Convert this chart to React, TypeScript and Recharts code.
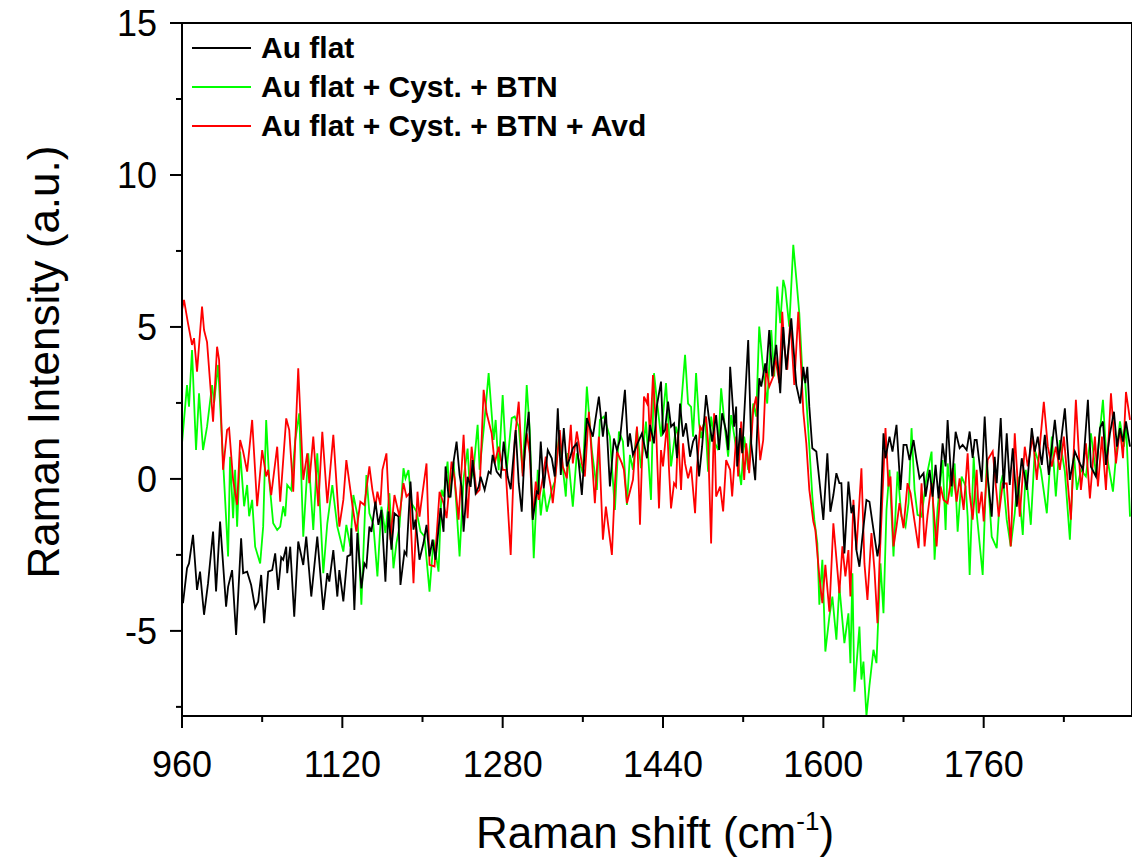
import { LineChart, Line, XAxis, YAxis, ReferenceLine, Legend, Label } from 'recharts'

const FONT = '"Liberation Sans", Arial, sans-serif'

const X_MIN = 960
const X_MAX = 1908
const Y_MIN = -7.8
const Y_MAX = 15

const xTicks = [960, 1040, 1120, 1200, 1280, 1360, 1440, 1520, 1600, 1680, 1760, 1840]
const yTicks = [-7.5, -5, -2.5, 0, 2.5, 5, 7.5, 10, 12.5, 15]

const seriesNames = ['Au flat', 'Au flat + Cyst. + BTN', 'Au flat + Cyst. + BTN + Avd']
const seriesColors = ['#000000', '#00ff00', '#ff0000']

// Au flat (black)
const auFlatX = [
  961, 965, 967, 971, 975, 978, 982, 986, 991, 994,
  998, 1004, 1006, 1010, 1014, 1019, 1021, 1025, 1029, 1033,
  1036, 1039, 1042, 1046, 1050, 1053, 1056, 1059, 1061, 1064,
  1065, 1068, 1072, 1076, 1081, 1084, 1089, 1095, 1101, 1105,
  1107, 1111, 1115, 1117, 1121, 1125, 1128, 1129, 1132, 1135,
  1139, 1142, 1144, 1147, 1149, 1153, 1156, 1159, 1163, 1166,
  1169, 1172, 1176, 1178, 1182, 1184, 1188, 1191, 1193, 1197,
  1201, 1204, 1207, 1210, 1213, 1218, 1221, 1223, 1226, 1228,
  1231, 1234, 1237, 1239, 1241, 1245, 1248, 1250, 1253, 1256,
  1258, 1262, 1266, 1268, 1270, 1274, 1278, 1281, 1285, 1288,
  1293, 1296, 1299, 1302, 1306, 1310, 1314, 1315.5, 1318, 1321,
  1325, 1329, 1332, 1335, 1338, 1341, 1344, 1347, 1350, 1354,
  1359, 1364, 1370, 1376, 1380, 1383, 1387, 1391, 1394, 1397,
  1402, 1405, 1407, 1410, 1414, 1419, 1424, 1427, 1431, 1434,
  1438, 1440, 1442, 1445, 1448, 1451, 1454, 1457, 1460, 1463,
  1467, 1470, 1473, 1476, 1479, 1483, 1486, 1489, 1493, 1496,
  1499, 1503, 1505, 1507, 1511, 1513, 1514, 1517, 1519, 1525,
  1528, 1532, 1536, 1538, 1542, 1543, 1546, 1549, 1553, 1557,
  1560, 1563, 1568, 1573, 1577, 1580, 1582, 1584, 1586, 1589,
  1593, 1596, 1600, 1604, 1607, 1610, 1613, 1616, 1618, 1621,
  1625, 1628, 1630, 1633, 1636, 1639, 1643, 1646, 1650, 1654,
  1656, 1660, 1662, 1666, 1669, 1673, 1677, 1680, 1683, 1686,
  1690, 1693, 1696, 1700, 1702, 1706, 1709, 1712, 1715, 1719,
  1722, 1724, 1728, 1732, 1736, 1739, 1743, 1746, 1749, 1751,
  1753, 1758, 1761, 1764, 1768, 1771, 1773, 1777, 1780, 1783,
  1786, 1789, 1793, 1798, 1803, 1808, 1811, 1814, 1818, 1821,
  1825, 1831, 1835, 1841, 1846, 1851, 1856, 1859, 1864, 1867,
  1872, 1876, 1879, 1882, 1886, 1890, 1893, 1896, 1899, 1902,
  1906,
]
const auFlatY = [
  -4.09, -2.94, -2.78, -1.84, -3.65, -3.05, -4.47, -3.43, -1.73, -3.7,
  -1.4, -4.2, -3.55, -3.0, -5.13, -1.95, -3.1, -3.05, -3.49, -4.25,
  -4.04, -3.16, -4.75, -3.05, -3.0, -2.45, -3.65, -2.58, -2.66, -2.23,
  -3.1, -2.23, -4.53, -2.06, -2.83, -1.9, -3.87, -1.9, -4.31, -3.1,
  -3.38, -2.34, -3.87, -3.0, -4.03, -2.55, -2.5, -1.62, -4.31, -1.78,
  -3.6, -2.78, -2.89, -1.57, -1.74, -0.75, -1.51, -1.02, -3.38, -1.07,
  -2.33, -1.13, -1.24, -3.49, -2.39, -2.5, -0.09, -1.67, -1.34, -2.66,
  -2.11, -1.51, -2.55, -2.0, -2.66, -0.96, -1.74, 0.41, -0.58, -0.58,
  0.57, 1.23, 0.13, -0.26, -1.74, 0.07, -0.26, 0.62, -0.47, -0.26,
  0.07, -0.36, 0.24, 0.18, 0.79, 0.24, 0.07, 1.23, 0.08, -0.34,
  1.61, -0.14, -1.08, 0.95, 2.21, -1.35, -0.42, -0.47, 1.23, -0.31,
  0.95, 0.68, 0.08, 2.32, 0.13, 1.67, 0.41, 0.68, 1.01, 1.17,
  -0.53, 2.0, 1.39, 2.71, 1.39, 2.21, -0.25, 1.33, 0.95, 1.28,
  2.93, 1.06, 1.5, 0.79, 1.12, 1.5, 0.68, 1.78, 1.17, 2.43,
  3.2, 1.5, 1.61, 2.54, 1.72, 1.83, 0.68, 2.48, 1.39, 1.83,
  0.73, 1.23, 1.45, 0.08, 1.06, 2.76, 1.94, 1.23, 2.1, 0.95,
  2.16, 1.56, 0.95, 3.69, 1.72, 2.38, 0.41, 1.67, 0.85, 4.57,
  1.17, -0.04, 3.31, 3.04, 3.8, 3.48, 4.9, 3.37, 4.41, 2.82,
  5.0, 3.59, 5.28, 3.09, 2.48, 3.69, 3.15, 3.69, 2.37, 1.01,
  0.9, -0.04, -1.35, 0.84, -1.08, -0.53, 0.19, -0.14, -0.14, -2.45,
  -0.09, -1.13, -0.86, -2.34, -2.89, -1.9, -0.69, -0.75, -1.67, -2.55,
  -2.11, 1.5, 0.68, 1.39, 0.9, 1.78, -0.36, 1.12, 1.12, 0.62,
  1.28, 0.62, 0.02, 0.19, -0.58, 0.3, -0.58, 0.46, -0.64, 1.17,
  0.41, 1.94, -0.25, 1.55, 1.01, 1.12, 0.95, 1.56, 0.69, 1.28,
  1.28, -0.1, 2.05, 0.08, -1.24, 0.73, -0.14, 2.0, -0.31, 1.5,
  -0.2, 1.01, -0.91, 0.68, -0.36, 1.67, 0.9, 1.39, 0.46, 1.45,
  0.13, 1.94, 0.63, 2.32, -0.03, 0.9, 0.51, 0.3, 2.6, 0.4,
  0.08, 1.67, 1.89, 0.46, 1.5, 2.21, 1.06, 1.67, 1.23, 1.89,
  1.06,
]

// Au flat + Cyst. + BTN (green)
const btnX = [
  960, 965, 967, 970, 974, 977, 981, 985, 990, 992,
  996, 1006, 1008, 1011, 1013, 1015, 1018, 1022, 1025, 1027,
  1030, 1033, 1038, 1041, 1044, 1047, 1051, 1055, 1058, 1061,
  1063, 1065, 1069, 1073, 1077, 1081, 1086, 1091, 1095, 1101,
  1105, 1110, 1115, 1121, 1124, 1128, 1131, 1135, 1139, 1144,
  1147, 1151, 1155, 1159, 1163, 1167, 1171, 1174, 1177, 1181,
  1183, 1186, 1189, 1194, 1198, 1202, 1207, 1211, 1216, 1219,
  1221, 1225, 1227, 1231, 1237, 1241, 1245, 1247, 1251, 1255,
  1257, 1261, 1266, 1271, 1273, 1276, 1280, 1284, 1289, 1292,
  1296, 1300, 1304, 1307, 1311, 1315, 1318, 1321, 1324, 1329,
  1332, 1336, 1339, 1343, 1345, 1350, 1354, 1360, 1364, 1369,
  1374, 1377, 1381, 1387, 1392, 1396, 1400, 1404, 1407, 1410,
  1414, 1418, 1423, 1428, 1431, 1434, 1438, 1443, 1445, 1448,
  1453, 1455, 1458, 1462, 1465, 1468, 1470, 1473, 1476, 1478,
  1482, 1485, 1488, 1492, 1495, 1498, 1502, 1505, 1508, 1511,
  1514, 1518, 1521, 1525, 1530, 1533, 1536, 1540, 1544, 1548,
  1551, 1554, 1557, 1560, 1562, 1566, 1570, 1573, 1576, 1579,
  1582, 1586, 1589, 1591, 1594, 1596, 1599, 1602, 1606, 1609,
  1613, 1616, 1621, 1625, 1627, 1629, 1631, 1636, 1638, 1640,
  1643, 1646, 1650, 1653, 1657, 1660, 1663, 1666, 1670, 1674,
  1678, 1682, 1685, 1688, 1691, 1694, 1698, 1703, 1708, 1711,
  1714, 1719, 1722, 1724, 1728, 1731, 1734, 1738, 1742, 1744,
  1746, 1750, 1753, 1759, 1763, 1768, 1773, 1777, 1779, 1783,
  1787, 1791, 1794, 1799, 1802, 1807, 1811, 1817, 1823, 1828,
  1832, 1836, 1841, 1846, 1850, 1853, 1857, 1862, 1867, 1872,
  1879, 1882, 1889, 1892, 1896, 1900, 1902, 1906,
]
const btnY = [
  1.17, 3.09, 2.38, 4.24, 0.95, 2.82, 0.95, 1.72, 3.09, 2.5,
  3.75, -2.55, 0.73, -1.29, 0.3, -1.57, 0.9, -0.9, -0.2, -1.23,
  -0.69, -2.23, -2.78, -1.57, 1.94, -0.03, -1.46, -1.68, -1.57, -0.9,
  -1.23, -0.2, -0.37, 1.28, 2.16, -1.9, 0.84, -1.68, 0.84, -3.1,
  -1.46, -0.2, -1.57, -2.39, -1.51, -2.23, -0.53, -1.18, -4.14, 0.13,
  -1.13, -1.51, -3.21, -0.91, -1.78, -0.47, -2.94, -2.11, -1.57, 0.35,
  0.02, 0.29, -0.8, -1.07, -1.73, -1.89, -3.71, -2.0, -3.05, -0.36,
  -0.58, 0.57, -0.63, 0.57, -2.55, 0.02, 1.0, -0.25, 0.35, 1.78,
  0.3, 1.61, 3.48, 1.28, 1.94, 0.29, 2.76, 0.3, 2.0, 2.05,
  1.72, 0.19, 3.09, 1.61, -2.61, 0.3, -1.2, -0.31, -1.08, -0.36,
  -0.09, 1.33, 0.68, -0.58, 0.85, -0.91, 0.84, 0.19, 3.04, 0.95,
  -0.36, 1.94, 2.05, 1.39, -1.02, 1.56, 1.23, -0.86, 0.79, 0.3,
  1.67, 0.35, 1.89, -0.69, 3.48, 2.54, 1.39, 3.15, 2.05, 0.41,
  1.72, 1.39, 2.37, 4.08, 2.48, 2.37, 1.39, 3.48, 1.83, 1.34,
  2.05, 0.24, 2.05, 1.17, 0.95, 2.98, 1.61, 0.73, 2.1, 1.45,
  0.73, -0.2, 1.39, 0.3, 2.48, 2.05, 5.01, 3.59, 2.48, 4.9,
  3.37, 6.33, 5.12, 6.55, 6.27, 5.01, 7.7, 6.6, 5.45, 3.53,
  3.15, 1.06, -0.58, -1.34, -2.12, -4.14, -2.66, -5.68, -4.53, -3.87,
  -5.29, -3.54, -5.4, -4.42, -6.06, -3.1, -7.0, -4.86, -6.6, -6.01,
  -7.8, -6.8, -5.62, -6.06, -2.78, -4.42, -1.02, 0.3, -2.55, 0.24,
  -1.24, -1.57, -0.8, 1.67, -0.36, -1.18, -1.24, 0.08, 0.9, -2.66,
  -0.96, 0.62, -1.68, 0.51, -0.58, 0.51, -1.74, 0.08, -0.25, -1.24,
  -3.16, 0.74, -1.13, -3.16, 0.63, -1.9, -2.28, -0.15, 0.13, -1.35,
  -2.22, -1.13, 0.08, -1.84, 0.3, -1.51, 0.95, 0.3, -1.13, 1.39,
  -0.58, 1.28, 0.24, -2.0, 0.84, -0.36, 0.3, 0.08, 1.5, 0.19,
  2.6, 0.95, -0.42, 0.73, 1.89, 1.06, 1.83, -1.24,
]

// Au flat + Cyst. + BTN + Avd (red)
const avdX = [
  960, 962, 966, 970, 972, 975, 980, 982, 985, 991,
  995, 997, 1001, 1005, 1007, 1011, 1015, 1018, 1021, 1025,
  1030, 1035, 1040, 1044, 1046, 1049, 1055, 1058, 1064, 1067,
  1071, 1076, 1081, 1085, 1087, 1091, 1096, 1100, 1105, 1111,
  1117, 1121, 1124, 1128, 1130, 1134, 1138, 1142, 1147, 1150,
  1153, 1155, 1158, 1160, 1164, 1168, 1172, 1177, 1181, 1184,
  1187, 1191, 1195, 1197, 1200, 1204, 1207, 1212, 1217, 1221,
  1224, 1229, 1232, 1236, 1241, 1245, 1249, 1254, 1257, 1261,
  1264, 1269, 1272, 1276, 1280, 1283, 1288, 1292, 1296, 1300,
  1304, 1307, 1310, 1313, 1316, 1320, 1323, 1325, 1328, 1330,
  1333, 1337, 1340, 1344, 1348, 1350, 1354, 1359, 1362, 1366,
  1372, 1376, 1380, 1383, 1389, 1392, 1394, 1399, 1401, 1404,
  1410, 1414, 1417, 1421, 1424, 1425, 1427, 1430, 1433, 1436,
  1438, 1440, 1444, 1446, 1448, 1451, 1453, 1455, 1458, 1460,
  1462, 1465, 1468, 1472, 1474, 1477, 1479, 1483, 1485, 1488,
  1491, 1493, 1497, 1500, 1503, 1507, 1509, 1513, 1515, 1518,
  1521, 1523, 1526, 1530, 1533, 1537, 1540, 1543, 1546, 1550,
  1552, 1556, 1559, 1561, 1564, 1567, 1571, 1575, 1578, 1580,
  1583, 1586, 1590, 1592, 1596, 1599, 1602, 1606, 1610, 1614,
  1616, 1619, 1622, 1625, 1627, 1630, 1633, 1638, 1641, 1644,
  1648, 1651, 1654, 1656, 1660, 1662, 1665, 1667, 1670, 1673,
  1676, 1680, 1684, 1687, 1691, 1695, 1698, 1701, 1704, 1708,
  1713, 1717, 1720, 1724, 1729, 1733, 1736, 1740, 1744, 1746,
  1749, 1753, 1755, 1758, 1760, 1764, 1769, 1775, 1779, 1783,
  1787, 1791, 1796, 1801, 1804, 1809, 1813, 1817, 1820, 1824,
  1828, 1832, 1836, 1840, 1847, 1852, 1857, 1862, 1866, 1871,
  1874, 1878, 1882, 1887, 1892, 1896, 1899, 1902, 1906,
]
const avdY = [
  5.56, 5.89, 5.12, 4.41, 4.63, 3.53, 5.67, 4.9, 4.5, 1.88,
  4.35, 3.92, 0.3, 1.61, 1.67, -0.03, -0.85, 1.28, 0.9, 0.24,
  1.94, -0.9, 0.95, 0.08, 0.3, -0.53, 1.06, -0.75, 1.99, 1.61,
  -0.42, 3.64, -0.03, 0.84, -0.14, 1.39, -0.9, 1.55, -0.8, 1.45,
  -1.57, -0.69, 0.62, -0.36, -0.86, -1.73, -0.75, -0.86, 0.41, -0.36,
  -0.91, -0.42, -0.86, 0.3, 0.84, -2.0, -0.53, -1.24, -0.14, -0.58,
  -0.47, -3.43, -0.42, -1.24, -0.47, 0.51, -2.83, -2.88, -0.42, -0.8,
  -1.29, 0.57, 0.02, -1.34, 1.45, -1.29, 1.06, -0.47, -0.36, 2.93,
  2.16, 1.5, 0.51, 1.06, 0.3, 0.3, -2.5, 1.28, 2.54, 0.08,
  1.5, 0.84, -1.3, -0.09, -0.69, 0.02, 0.73, 0.3, -0.25, -0.8,
  0.19, 1.61, 0.41, 0.02, 1.78, 0.51, 1.56, 0.51, 0.08, 2.21,
  -0.8, 1.39, -2.0, -0.91, -2.5, -0.2, 0.9, 0.51, 0.3, -0.8,
  -0.03, 1.72, -1.51, 2.71, 2.49, 2.82, 1.23, 3.42, 1.72, -0.97,
  0.95, 0.41, 1.83, 0.3, -0.97, -0.14, -0.25, 1.55, -0.36, 1.17,
  0.51, 0.02, 0.41, -1.13, 0.41, 1.72, 1.61, 2.05, 1.17, -2.12,
  2.16, -0.58, -0.25, -1.07, 0.62, 0.3, -0.58, 1.39, 0.08, 1.89,
  -0.03, 1.17, 0.19, 2.27, 2.71, 0.62, 1.28, 3.69, 3.04, 3.37,
  4.02, 3.15, 5.5, 4.35, 3.59, 5.23, 3.09, 5.5, 3.59, 2.21,
  1.17, -0.36, -1.4, -1.67, -3.21, -4.09, -2.83, -4.37, -1.46, -2.99,
  -3.76, -2.22, -3.21, -2.34, -3.87, -0.69, -2.34, 0.35, -2.78, -3.98,
  -1.78, -2.99, -4.75, -2.78, 0.19, 1.67, -0.25, 0.08, -2.22, -1.57,
  -0.8, -1.62, -0.14, -0.47, -1.4, -2.28, -0.14, -2.22, -1.18, -0.14,
  -2.22, -0.25, -0.69, -0.8, 0.35, -0.75, 0.02, -1.02, 0.84, -0.47,
  -1.34, 0.3, -1.13, -0.42, -1.4, 0.63, 0.91, -1.24, -0.15, -0.15,
  -2.22, 1.5, -1.24, 1.06, 0.41, 1.39, -0.03, 1.45, 2.54, 1.06,
  0.41, 1.06, 0.3, 1.39, -1.34, 2.6, -0.36, 1.17, -0.64, 1.39,
  -0.25, 1.39, -0.36, 2.82, 0.51, 1.67, 0.68, 2.86, 1.94,
]

const toPoints = (xs: number[], ys: number[]) => xs.map((x, i) => ({ x, y: ys[i] }))

const auFlatData = toPoints(auFlatX, auFlatY)
const btnData = toPoints(btnX, btnY)
const avdData = toPoints(avdX, avdY)

function XTick({ x, y, payload }: { x?: number; y?: number; payload?: { value: number } }) {
  if (x == null || y == null || !payload) return null
  const major = (payload.value - 960) % 160 === 0
  return (
    <g>
      <line x1={x} x2={x} y1={y} y2={y + (major ? 12 : 6)} stroke="#000" strokeWidth={2} />
      {major && (
        <text x={x} y={y + 61} textAnchor="middle" fontSize={36} fontFamily={FONT} fill="#000">
          {payload.value}
        </text>
      )}
    </g>
  )
}

function YTick({ x, y, payload }: { x?: number; y?: number; payload?: { value: number } }) {
  if (x == null || y == null || !payload) return null
  const major = Math.abs(payload.value % 5) < 1e-9
  return (
    <g>
      <line x1={x - (major ? 12 : 6)} x2={x} y1={y} y2={y} stroke="#000" strokeWidth={2} />
      {major && (
        <text x={x - 25} y={y + 13} textAnchor="end" fontSize={36} fontFamily={FONT} fill="#000">
          {payload.value}
        </text>
      )}
    </g>
  )
}

function XTitle({ viewBox }: { viewBox?: { x: number; y: number; width: number; height: number } }) {
  if (!viewBox) return null
  const cx = viewBox.x + viewBox.width / 2 - 2
  return (
    <text x={cx} y={viewBox.y + 132} textAnchor="middle" fontSize={44} fontFamily={FONT} fill="#000">
      Raman shift (cm
      <tspan dy={-18} fontSize={26}>-1</tspan>
      <tspan dy={18}>)</tspan>
    </text>
  )
}

function YTitle({ viewBox }: { viewBox?: { x: number; y: number; width: number; height: number } }) {
  if (!viewBox) return null
  const tx = viewBox.x + 51
  const ty = viewBox.y + 339
  return (
    <text
      x={tx}
      y={ty}
      textAnchor="middle"
      fontSize={44}
      fontFamily={FONT}
      fill="#000"
      transform={`rotate(-90, ${tx}, ${ty})`}
    >
      Raman Intensity (a.u.)
    </text>
  )
}

function LegendBox() {
  return (
    <svg width={560} height={130} style={{ display: 'block' }}>
      {seriesNames.map((name, i) => (
        <g key={name}>
          <line x1={10} x2={69} y1={25 + i * 39} y2={25 + i * 39} stroke={seriesColors[i]} strokeWidth={2} />
          <text x={79} y={35 + i * 39} fontSize={30} fontWeight="bold" fontFamily={FONT} fill="#000">
            {name}
          </text>
        </g>
      ))}
    </svg>
  )
}

export default function App() {
  return (
    <div style={{ width: 1132, height: 852, background: '#fff' }}>
      <LineChart
        width={1132}
        height={852}
        margin={{ top: 15, right: 8, bottom: 0, left: 0 }}
        style={{ overflow: 'visible' }}
      >
        <XAxis
          type="number"
          dataKey="x"
          domain={[X_MIN, X_MAX]}
          ticks={xTicks}
          interval={0}
          allowDataOverflow
          height={144}
          tickSize={0}
          tickMargin={0}
          tickLine={false}
          axisLine={{ stroke: '#000', strokeWidth: 2 }}
          tick={<XTick />}
        >
          <Label content={<XTitle />} />
        </XAxis>
        <YAxis
          type="number"
          domain={[Y_MIN, Y_MAX]}
          ticks={yTicks}
          interval={0}
          allowDataOverflow
          width={174}
          tickSize={0}
          tickMargin={0}
          tickLine={false}
          axisLine={{ stroke: '#000', strokeWidth: 2 }}
          tick={<YTick />}
        >
          <Label content={<YTitle />} />
        </YAxis>
        <ReferenceLine y={Y_MAX} stroke="#000" strokeWidth={2} />
        <ReferenceLine x={X_MAX} stroke="#000" strokeWidth={2} />
        <Legend
          layout="horizontal"
          verticalAlign="middle"
          align="center"
          content={<LegendBox />}
          wrapperStyle={{ top: 15, left: 174, width: 560, height: 130 }}
        />
        <Line
          data={btnData}
          dataKey="y"
          name={seriesNames[1]}
          stroke={seriesColors[1]}
          strokeWidth={1.8}
          dot={false}
          type="linear"
          isAnimationActive={false}
        />
        <Line
          data={avdData}
          dataKey="y"
          name={seriesNames[2]}
          stroke={seriesColors[2]}
          strokeWidth={1.8}
          dot={false}
          type="linear"
          isAnimationActive={false}
        />
        <Line
          data={auFlatData}
          dataKey="y"
          name={seriesNames[0]}
          stroke={seriesColors[0]}
          strokeWidth={1.8}
          dot={false}
          type="linear"
          isAnimationActive={false}
        />
      </LineChart>
    </div>
  )
}
